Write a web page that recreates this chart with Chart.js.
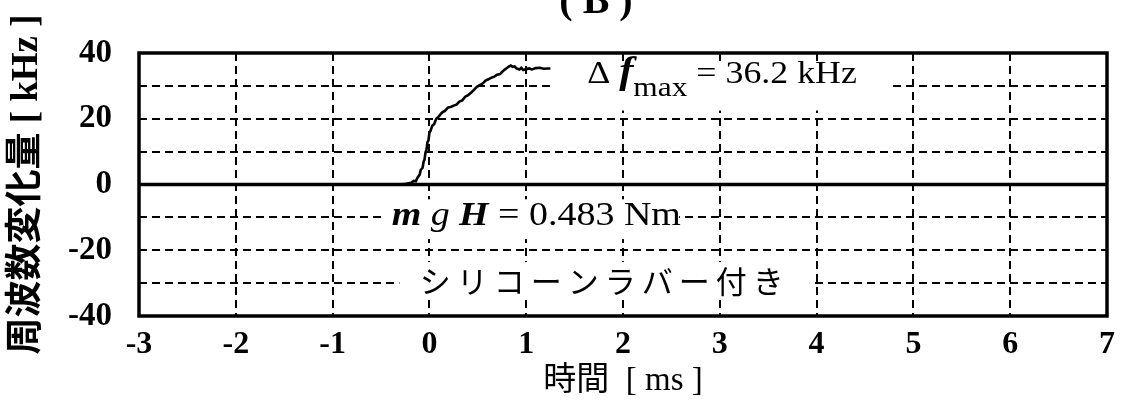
<!DOCTYPE html>
<html lang="ja">
<head>
<meta charset="utf-8">
<title>周波数変化量</title>
<script src="https://cdn.jsdelivr.net/npm/chart.js@4/dist/chart.umd.min.js"></script>
<style>
  html, body { margin: 0; padding: 0; background: #fff; }
  canvas { display: block; }
</style>
</head>
<body>
<canvas id="chart" width="1125" height="405"></canvas>
<script>
// Measured frequency shift after impact (time in ms, shift in kHz)
const timeMs = [
  -0.30, -0.24, -0.19, -0.16, -0.14, -0.12, -0.10, -0.09, -0.07, -0.06,
  -0.05, -0.04, -0.03, -0.02, -0.01, 0.00, 0.01, 0.03, 0.05, 0.07,
  0.10, 0.13, 0.16, 0.19, 0.22, 0.25, 0.28, 0.31, 0.34, 0.37,
  0.40, 0.43, 0.46, 0.49, 0.52, 0.55, 0.58, 0.61, 0.64, 0.67,
  0.70, 0.73, 0.76, 0.79, 0.82, 0.84, 0.86, 0.88, 0.90, 0.93,
  0.95, 0.97, 1.00, 1.03, 1.06, 1.10, 1.14, 1.18, 1.22, 1.25
];
const deltaF = [
  0.0, 0.2, 0.5, 1.1, 1.0, 2.2, 3.0, 4.4, 5.1, 6.9,
  7.6, 9.8, 10.6, 12.9, 13.4, 15.7, 16.2, 17.9, 18.4, 19.9,
  20.8, 21.9, 22.4, 23.4, 23.6, 24.0, 24.3, 25.2, 25.6, 26.7,
  27.2, 27.9, 28.8, 29.7, 30.2, 30.7, 31.6, 32.0, 32.5, 32.8,
  33.4, 33.6, 34.5, 35.2, 35.9, 36.2, 35.8, 35.9, 35.3, 35.0,
  35.5, 34.8, 35.1, 35.3, 35.0, 35.4, 35.5, 35.2, 35.3, 35.3
];

// Axis ranges and tick spacing
const xRange = [-3, 7];
const yRange = [-40, 40];
const xStep = 1;
const yStep = 10;
const yLabelStep = 20;

// Zero reference line
const baselineX = [-3, 7];
const baselineY = [0, 0];

// Text
const panelTitle = '( B )';
const xTitle = '時間  [ ms ]';
const yTitle = '周波数変化量 [ kHz ]';
const dfValue = '36.2';
const mghValue = '0.483';
const noteText = 'シリコーンラバー付き';

const SERIF = '"Liberation Serif", "Times New Roman", serif';
const LABEL_FAMILY = '"Liberation Serif", "Noto Sans CJK JP", serif';
const CJK = '"Noto Sans CJK JP", sans-serif';

const curve = timeMs.map((t, i) => ({ x: t, y: deltaF[i] }));
const baseline = baselineX.map((t, i) => ({ x: t, y: baselineY[i] }));

// Draw a sequence of differently styled text runs on one baseline,
// widened horizontally by sx
function drawRuns(ctx, x, y, sx, runs) {
  ctx.save();
  ctx.translate(x, y);
  ctx.scale(sx, 1);
  let cx = 0;
  for (const r of runs) {
    ctx.font = r.font;
    ctx.fillText(r.text, cx, r.dy || 0);
    cx += ctx.measureText(r.text).width;
  }
  ctx.restore();
}

const decorations = {
  id: 'decorations',
  afterDatasetsDraw(chart) {
    const { ctx, chartArea: a, scales: { x, y } } = chart;
    ctx.save();

    // plot frame
    ctx.strokeStyle = '#000';
    ctx.lineWidth = 3.5;
    ctx.strokeRect(a.left, a.top, a.right - a.left, a.bottom - a.top);

    // white backing boxes behind the annotations (in data units)
    const box = (x0, y0, x1, y1) => {
      const px0 = x.getPixelForValue(x0), px1 = x.getPixelForValue(x1);
      const py0 = y.getPixelForValue(y0), py1 = y.getPixelForValue(y1);
      ctx.fillStyle = '#fff';
      ctx.fillRect(px0, py1, px1 - px0, py0 - py1);
    };
    box(1.29, 22.5, 4.74, 37.2);
    box(-0.46, -16.6, 2.58, -4.5);
    box(-0.31, -34.5, 3.93, -23.6);

    ctx.fillStyle = '#000';
    ctx.textBaseline = 'alphabetic';
    ctx.textAlign = 'left';

    // Δf_max annotation
    drawRuns(ctx, x.getPixelForValue(1.63), y.getPixelForValue(31.0), 1.12, [
      { text: 'Δ ', font: '32px ' + SERIF },
      { text: 'f', font: 'italic bold 38px ' + SERIF },
      { text: 'max', font: '28px ' + SERIF, dy: 13 },
      { text: ' = ' + dfValue + ' kHz', font: '32px ' + SERIF }
    ]);

    // mgH annotation
    drawRuns(ctx, x.getPixelForValue(-0.39), y.getPixelForValue(-12.4), 1.15, [
      { text: 'm', font: 'italic bold 33px ' + SERIF },
      { text: ' ', font: '33px ' + SERIF },
      { text: 'g', font: 'italic 33px ' + SERIF },
      { text: ' ', font: '33px ' + SERIF },
      { text: 'H', font: 'italic bold 33px ' + SERIF },
      { text: ' = ' + mghValue + ' Nm', font: '33px ' + SERIF }
    ]);

    // condition note
    ctx.font = '31px ' + CJK;
    ctx.letterSpacing = '6px';
    ctx.textBaseline = 'middle';
    ctx.fillText(noteText, x.getPixelForValue(-0.10), y.getPixelForValue(-29.4));
    ctx.letterSpacing = '0px';

    // panel title at the top edge
    ctx.textAlign = 'center';
    ctx.textBaseline = 'alphabetic';
    ctx.font = 'bold 40px ' + SERIF;
    ctx.fillText(panelTitle, 596, 13);

    ctx.restore();
  }
};

new Chart(document.getElementById('chart'), {
  type: 'line',
  data: {
    datasets: [
      {
        data: curve,
        borderColor: '#000',
        borderWidth: 2.6,
        pointRadius: 0,
        tension: 0,
        fill: false
      },
      {
        data: baseline,
        borderColor: '#000',
        borderWidth: 3.5,
        pointRadius: 0,
        tension: 0,
        fill: false
      }
    ]
  },
  options: {
    responsive: false,
    animation: false,
    devicePixelRatio: 1,
    layout: { padding: { top: 53, right: 16, left: 0, bottom: 0 } },
    plugins: { legend: { display: false }, tooltip: { enabled: false } },
    scales: {
      x: {
        type: 'linear',
        min: xRange[0],
        max: xRange[1],
        afterFit(scale) { scale.height = 89; },
        ticks: {
          stepSize: xStep,
          autoSkip: false,
          maxRotation: 0,
          padding: 10,
          color: '#000',
          font: { family: SERIF, size: 32, weight: 'bold' }
        },
        grid: {
          color: '#000',
          lineWidth: 2,
          drawTicks: false
        },
        border: { display: false, dash: [8, 5] },
        title: {
          display: true,
          text: xTitle,
          color: '#000',
          font: { family: LABEL_FAMILY, size: 33 },
          padding: { top: 0, bottom: 4 }
        }
      },
      y: {
        type: 'linear',
        min: yRange[0],
        max: yRange[1],
        afterFit(scale) { scale.width = 139; },
        ticks: {
          stepSize: yStep,
          autoSkip: false,
          padding: 27,
          color: '#000',
          font: { family: SERIF, size: 33, weight: 'bold' },
          callback: v => (v % yLabelStep === 0 ? String(v) : '')
        },
        grid: {
          color: c => (c.tick && c.tick.value === 0 ? 'rgba(0,0,0,0)' : '#000'),
          lineWidth: 2,
          drawTicks: false
        },
        border: { display: false, dash: [8, 5] },
        title: {
          display: true,
          text: yTitle,
          color: '#000',
          font: { family: LABEL_FAMILY, size: 37, weight: 'bold' },
          padding: { top: 5, bottom: 0 }
        }
      }
    }
  },
  plugins: [decorations]
});
</script>
</body>
</html>
